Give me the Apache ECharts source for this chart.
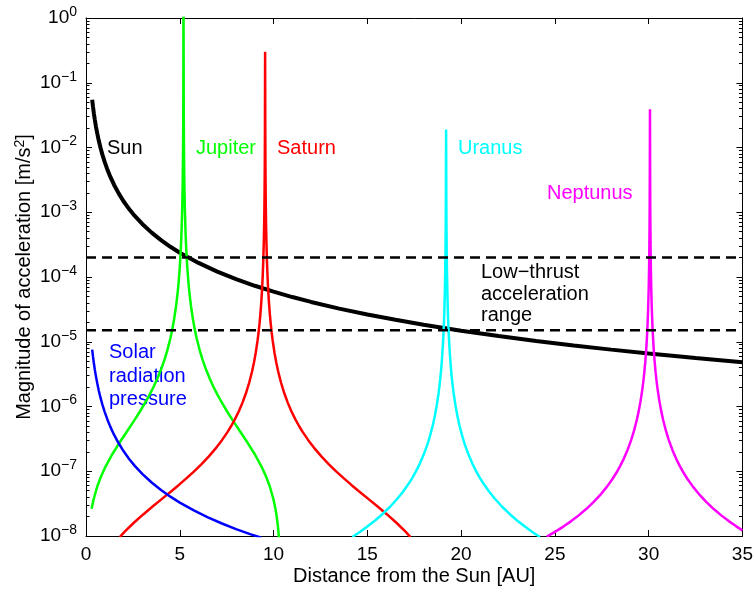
<!DOCTYPE html>
<html>
<head>
<meta charset="utf-8">
<script src="https://cdn.jsdelivr.net/npm/echarts@6/dist/echarts.min.js"></script>
<style>
  html, body { margin: 0; padding: 0; background: #fff; }
  #chart { width: 756px; height: 592px; }
</style>
</head>
<body>
<div id="chart"></div>
<script>
// Acceleration magnitudes [m/s^2] versus heliocentric distance [AU]
const sunData = [
  [0.33, 5.45e-2], [0.37, 4.33e-2], [0.42, 3.36e-2], [0.47, 2.68e-2], [0.53, 2.11e-2],
  [0.6, 1.65e-2], [0.68, 1.28e-2], [0.77, 1.0e-2], [0.87, 7.83e-3], [1.0, 5.93e-3],
  [1.15, 4.48e-3], [1.3, 3.51e-3], [1.5, 2.64e-3], [1.75, 1.94e-3], [2.0, 1.48e-3],
  [2.3, 1.12e-3], [2.6, 8.77e-4], [3.0, 6.59e-4], [3.5, 4.84e-4], [4, 3.71e-4],
  [4.5, 2.93e-4], [5, 2.37e-4], [6, 1.65e-4], [7, 1.21e-4], [8, 9.27e-5],
  [9, 7.32e-5], [10, 5.93e-5], [11, 4.9e-5], [12, 4.12e-5], [13.5, 3.25e-5],
  [15, 2.64e-5], [16.5, 2.18e-5], [18, 1.83e-5], [20, 1.48e-5], [22, 1.23e-5],
  [24, 1.03e-5], [26, 8.77e-6], [28, 7.56e-6], [30, 6.59e-6], [32.5, 5.61e-6],
  [35, 4.84e-6]
];

const jupiterData = [
  [0.3, 2.64e-8], [0.4, 3.63e-8], [0.6, 5.82e-8], [0.8, 8.30e-8], [1.0, 1.116e-7],
  [1.4, 1.83e-7], [1.8, 2.80e-7], [2.2, 4.19e-7], [2.6, 6.28e-7], [2.9, 8.6e-7],
  [3.2, 1.206e-6], [3.4, 1.537e-6], [3.6, 2.001e-6], [3.8, 2.678e-6], [4.0, 3.72e-6],
  [4.2, 5.45e-6], [4.35, 7.62e-6], [4.5, 1.134e-5], [4.6, 1.551e-5], [4.7, 2.243e-5],
  [4.8, 3.537e-5], [4.85, 4.62e-5], [4.9, 6.29e-5], [4.95, 9.06e-5], [5.0, 1.415e-4],
  [5.04, 2.211e-4], [5.07, 3.349e-4], [5.1, 5.66e-4], [5.13, 1.155e-3], [5.15, 2.264e-3],
  [5.16, 3.54e-3], [5.17, 6.29e-3], [5.18, 1.415e-2], [5.185, 2.515e-2], [5.19, 5.66e-2],
  [5.2, 3],
  [5.21, 5.66e-2], [5.215, 2.515e-2], [5.22, 1.415e-2], [5.23, 6.29e-3], [5.24, 3.54e-3],
  [5.25, 2.264e-3], [5.27, 1.155e-3], [5.3, 5.66e-4], [5.33, 3.349e-4], [5.36, 2.211e-4],
  [5.4, 1.415e-4], [5.45, 9.06e-5], [5.5, 6.29e-5], [5.55, 4.62e-5], [5.6, 3.537e-5],
  [5.7, 2.243e-5], [5.8, 1.551e-5], [5.9, 1.134e-5], [6.05, 7.62e-6], [6.2, 5.45e-6],
  [6.4, 3.72e-6], [6.6, 2.678e-6], [6.8, 2.001e-6], [7.0, 1.537e-6], [7.2, 1.206e-6],
  [7.5, 8.6e-7], [7.8, 6.28e-7], [8.2, 4.19e-7], [8.6, 2.80e-7], [9.0, 1.83e-7],
  [9.4, 1.116e-7], [9.6, 8.30e-8], [9.8, 5.82e-8], [10.0, 3.63e-8], [10.1, 2.64e-8],
  [10.15, 2.17e-8], [10.2, 1.71e-8], [10.25, 1.263e-8], [10.3, 8.3e-9]
];

const saturnData = [
  [1.8, 9.63e-9], [2.05, 1.155e-8], [2.55, 1.601e-8], [3.05, 2.153e-8], [3.55, 2.85e-8],
  [4.05, 3.746e-8], [4.55, 4.92e-8], [4.95, 6.15e-8], [5.35, 7.75e-8], [5.75, 9.88e-8],
  [6.15, 1.280e-7], [6.55, 1.697e-7], [6.95, 2.32e-7], [7.25, 3.02e-7], [7.55, 4.05e-7],
  [7.75, 5.04e-7], [7.95, 6.43e-7], [8.15, 8.46e-7], [8.35, 1.158e-6], [8.55, 1.676e-6],
  [8.7, 2.327e-6], [8.85, 3.44e-6], [8.95, 4.69e-6], [9.05, 6.76e-6], [9.15, 1.0575e-5],
  [9.2, 1.382e-5], [9.25, 1.882e-5], [9.3, 2.71e-5], [9.35, 4.24e-5], [9.39, 6.62e-5],
  [9.42, 1.003e-4], [9.45, 1.695e-4], [9.48, 3.46e-4], [9.5, 6.78e-4], [9.51, 1.059e-3],
  [9.52, 1.883e-3], [9.53, 4.24e-3], [9.535, 7.53e-3], [9.54, 1.695e-2],
  [9.55, 0.3],
  [9.56, 1.695e-2], [9.565, 7.53e-3], [9.57, 4.24e-3], [9.58, 1.883e-3], [9.59, 1.059e-3],
  [9.6, 6.78e-4], [9.62, 3.46e-4], [9.65, 1.695e-4], [9.68, 1.003e-4], [9.71, 6.62e-5],
  [9.75, 4.24e-5], [9.8, 2.71e-5], [9.85, 1.882e-5], [9.9, 1.382e-5], [9.95, 1.0575e-5],
  [10.05, 6.76e-6], [10.15, 4.69e-6], [10.25, 3.44e-6], [10.4, 2.327e-6], [10.55, 1.676e-6],
  [10.75, 1.158e-6], [10.95, 8.46e-7], [11.15, 6.43e-7], [11.35, 5.04e-7], [11.55, 4.05e-7],
  [11.85, 3.02e-7], [12.15, 2.32e-7], [12.55, 1.697e-7], [12.95, 1.280e-7], [13.35, 9.88e-8],
  [13.75, 7.75e-8], [14.15, 6.15e-8], [14.55, 4.92e-8], [15.05, 3.746e-8], [15.55, 2.85e-8],
  [16.05, 2.153e-8], [16.55, 1.601e-8], [17.05, 1.155e-8], [17.3, 9.63e-9]
];

const uranusData = [
  [14.2, 9.65e-9], [14.6, 1.153e-8], [15.0, 1.398e-8], [15.4, 1.723e-8], [15.8, 2.17e-8],
  [16.2, 2.806e-8], [16.6, 3.76e-8], [16.9, 4.82e-8], [17.2, 6.40e-8], [17.4, 7.92e-8],
  [17.6, 1.004e-7], [17.8, 1.314e-7], [18.0, 1.791e-7], [18.2, 2.582e-7], [18.35, 3.58e-7],
  [18.5, 5.28e-7], [18.6, 7.18e-7], [18.7, 1.035e-6], [18.8, 1.618e-6], [18.85, 2.113e-6],
  [18.9, 2.876e-6], [18.95, 4.14e-6], [19.0, 6.47e-6], [19.04, 1.011e-5], [19.07, 1.532e-5],
  [19.1, 2.589e-5], [19.13, 5.28e-5], [19.15, 1.036e-4], [19.16, 1.618e-4], [19.17, 2.877e-4],
  [19.18, 6.47e-4], [19.185, 1.1506e-3], [19.19, 2.589e-3],
  [19.2, 1.9e-2],
  [19.21, 2.589e-3], [19.215, 1.1506e-3], [19.22, 6.47e-4], [19.23, 2.877e-4], [19.24, 1.618e-4],
  [19.25, 1.036e-4], [19.27, 5.28e-5], [19.3, 2.589e-5], [19.33, 1.532e-5], [19.36, 1.011e-5],
  [19.4, 6.47e-6], [19.45, 4.14e-6], [19.5, 2.876e-6], [19.55, 2.113e-6], [19.6, 1.618e-6],
  [19.7, 1.035e-6], [19.8, 7.18e-7], [19.9, 5.28e-7], [20.05, 3.58e-7], [20.2, 2.582e-7],
  [20.4, 1.791e-7], [20.6, 1.314e-7], [20.8, 1.004e-7], [21.0, 7.92e-8], [21.2, 6.40e-8],
  [21.5, 4.82e-8], [21.8, 3.76e-8], [22.2, 2.806e-8], [22.6, 2.17e-8], [23.0, 1.723e-8],
  [23.4, 1.398e-8], [23.8, 1.153e-8], [24.2, 9.65e-9]
];

const neptuneData = [
  [24.57, 9.76e-9], [25.07, 1.188e-8], [25.47, 1.41e-8], [25.87, 1.698e-8], [26.27, 2.082e-8],
  [26.67, 2.609e-8], [27.07, 3.36e-8], [27.47, 4.485e-8], [27.77, 5.74e-8], [28.07, 7.60e-8],
  [28.27, 9.39e-8], [28.47, 1.190e-7], [28.67, 1.555e-7], [28.87, 2.118e-7], [29.07, 3.052e-7],
  [29.22, 4.225e-7], [29.37, 6.23e-7], [29.47, 8.48e-7], [29.57, 1.222e-6], [29.67, 1.909e-6],
  [29.72, 2.494e-6], [29.77, 3.394e-6], [29.82, 4.888e-6], [29.87, 7.64e-6], [29.91, 1.193e-5],
  [29.94, 1.808e-5], [29.97, 3.055e-5], [30.0, 6.235e-5], [30.02, 1.222e-4], [30.03, 1.909e-4],
  [30.04, 3.394e-4], [30.05, 7.64e-4], [30.055, 1.358e-3], [30.06, 3.055e-3],
  [30.07, 3.9e-2],
  [30.08, 3.055e-3], [30.085, 1.358e-3], [30.09, 7.64e-4], [30.1, 3.394e-4], [30.11, 1.909e-4],
  [30.12, 1.222e-4], [30.14, 6.235e-5], [30.17, 3.055e-5], [30.2, 1.808e-5], [30.23, 1.193e-5],
  [30.27, 7.64e-6], [30.32, 4.888e-6], [30.37, 3.394e-6], [30.42, 2.494e-6], [30.47, 1.909e-6],
  [30.57, 1.222e-6], [30.67, 8.48e-7], [30.77, 6.23e-7], [30.92, 4.225e-7], [31.07, 3.052e-7],
  [31.27, 2.118e-7], [31.47, 1.555e-7], [31.67, 1.190e-7], [31.87, 9.39e-8], [32.07, 7.60e-8],
  [32.37, 5.74e-8], [32.67, 4.485e-8], [33.07, 3.36e-8], [33.47, 2.609e-8], [33.87, 2.082e-8],
  [34.27, 1.698e-8], [34.67, 1.41e-8], [35.0, 1.223e-8]
];

const srpData = [
  [0.33, 7.53e-6], [0.37, 5.99e-6], [0.42, 4.65e-6], [0.47, 3.71e-6], [0.53, 2.92e-6],
  [0.6, 2.28e-6], [0.68, 1.77e-6], [0.77, 1.38e-6], [0.87, 1.08e-6], [1.0, 8.2e-7],
  [1.15, 6.2e-7], [1.3, 4.85e-7], [1.5, 3.64e-7], [1.75, 2.68e-7], [2.0, 2.05e-7],
  [2.3, 1.55e-7], [2.6, 1.21e-7], [3.0, 9.1e-8], [3.5, 6.7e-8], [4, 5.13e-8],
  [4.5, 4.05e-8], [5, 3.28e-8], [5.75, 2.48e-8], [6.5, 1.94e-8], [7.25, 1.56e-8],
  [8, 1.28e-8], [8.75, 1.07e-8], [9.35, 9.4e-9]
];

// Low-thrust acceleration range bounds [m/s^2]
const thrustUpper = 2e-4;
const thrustLower = 1.5e-5;

const xRange = [0, 35];
const yDecades = [-8, -7, -6, -5, -4, -3, -2, -1, 0];

// minor tick positions (log10 of 2..9 x 10^n)
const yMinor = [];
for (let n = -8; n < 0; n++) {
  for (let k = 2; k <= 9; k++) yMinor.push(n + Math.log10(k));
}

const FONT = 'Liberation Sans, Arial, Helvetica, sans-serif';

function sup(e) {
  return e < 0 ? '\u2212' + (-e) : String(e);
}

const chart = echarts.init(document.getElementById('chart'), null, { renderer: 'canvas' });

function curve(name, data, color, width) {
  return {
    name, type: 'line', data, xAxisIndex: 0, yAxisIndex: 0,
    showSymbol: false, symbol: 'none', clip: true, smooth: false,
    lineStyle: { color, width }, emphasis: { disabled: true }, silent: true
  };
}

function thrustLine(value) {
  return {
    type: 'line', xAxisIndex: 0, yAxisIndex: 0, showSymbol: false, symbol: 'none',
    data: [[xRange[0], value], [xRange[1], value]], silent: true,
    lineStyle: { color: '#000', width: 2.5, type: [10, 6] }, z: 5
  };
}

const axisLineStyle = { show: true, onZero: false, lineStyle: { color: '#000', width: 1 } };

const tickAxisBase = {
  type: 'value', min: -8, max: 0, gridIndex: 0,
  axisLine: { show: false, onZero: false }, axisLabel: { show: false }, splitLine: { show: false }
};

const option = {
  animation: false,
  backgroundColor: '#fff',
  grid: { left: 86, right: 13, top: 18, bottom: 56, containLabel: false },
  xAxis: [
    {
      type: 'value', position: 'bottom', min: xRange[0], max: xRange[1], interval: 5,
      name: 'Distance from the Sun [AU]', nameLocation: 'middle', nameGap: 30,
      nameMoveOverlap: false,
      nameTextStyle: { fontFamily: FONT, fontSize: 20, color: '#000' },
      axisLine: axisLineStyle,
      axisTick: { show: true, inside: true, length: 6, lineStyle: { color: '#000' } },
      axisLabel: { fontFamily: FONT, fontSize: 19, color: '#000', margin: 9 },
      splitLine: { show: false }
    },
    {
      type: 'value', position: 'top', min: xRange[0], max: xRange[1], interval: 5,
      axisLine: axisLineStyle,
      axisTick: { show: true, inside: true, length: 6, lineStyle: { color: '#000' } },
      axisLabel: { show: false }, splitLine: { show: false }
    }
  ],
  yAxis: [
    {
      type: 'log', logBase: 10, min: 1e-8, max: 1, interval: 1, position: 'left',
      name: 'Magnitude of acceleration [m/s{sup|2}]', nameLocation: 'middle', nameGap: 50,
      nameRotate: 90, nameMoveOverlap: false,
      nameTextStyle: {
        fontFamily: FONT, fontSize: 20, color: '#000',
        rich: { sup: { fontFamily: FONT, fontSize: 14, color: '#000', padding: [0, 0, 9, 0] } }
      },
      axisLine: axisLineStyle,
      axisTick: { show: true, inside: true, length: 6, lineStyle: { color: '#000' } },
      axisLabel: {
        margin: 9, color: '#000',
        formatter: function (v) {
          const e = Math.round(Math.log10(v));
          return '{b|10}{s|' + sup(e) + '}';
        },
        rich: {
          b: { fontFamily: FONT, fontSize: 19, color: '#000' },
          s: { fontFamily: FONT, fontSize: 14, color: '#000', padding: [0, 0, 12, 0] }
        }
      },
      splitLine: { show: false }
    },
    Object.assign({}, tickAxisBase, {
      position: 'left',
      axisTick: { show: true, inside: true, length: 3.5, customValues: yMinor, lineStyle: { color: '#000' } }
    }),
    Object.assign({}, tickAxisBase, {
      position: 'right',
      axisLine: axisLineStyle,
      axisTick: { show: true, inside: true, length: 6, customValues: yDecades, lineStyle: { color: '#000' } }
    }),
    Object.assign({}, tickAxisBase, {
      position: 'right',
      axisTick: { show: true, inside: true, length: 3.5, customValues: yMinor, lineStyle: { color: '#000' } }
    })
  ],
  series: [
    curve('Sun', sunData, '#000000', 4),
    curve('Jupiter', jupiterData, '#00ff00', 2.5),
    curve('Saturn', saturnData, '#ff0000', 2.5),
    curve('Uranus', uranusData, '#00ffff', 2.5),
    curve('Neptunus', neptuneData, '#ff00ff', 2.5),
    curve('Solar radiation pressure', srpData, '#0000ff', 2.5),
    thrustLine(thrustUpper),
    thrustLine(thrustLower)
  ],
  graphic: [
    { type: 'text', left: 107, top: 138, style: { text: 'Sun', fill: '#000', font: '20px ' + FONT } },
    { type: 'text', left: 196, top: 138, style: { text: 'Jupiter', fill: '#00ff00', font: '20px ' + FONT } },
    { type: 'text', left: 277, top: 138, style: { text: 'Saturn', fill: '#ff0000', font: '20px ' + FONT } },
    { type: 'text', left: 458, top: 138, style: { text: 'Uranus', fill: '#00ffff', font: '20px ' + FONT } },
    { type: 'text', left: 547, top: 183, style: { text: 'Neptunus', fill: '#ff00ff', font: '20px ' + FONT } },
    { type: 'text', left: 481, top: 262, style: { text: 'Low\u2212thrust\nacceleration\nrange', fill: '#000', font: '20px ' + FONT, lineHeight: 21.5 } },
    { type: 'text', left: 109, top: 341, style: { text: 'Solar\nradiation\npressure', fill: '#0000ff', font: '20px ' + FONT, lineHeight: 23.5 } }
  ]
};

chart.setOption(option);
</script>
</body>
</html>
